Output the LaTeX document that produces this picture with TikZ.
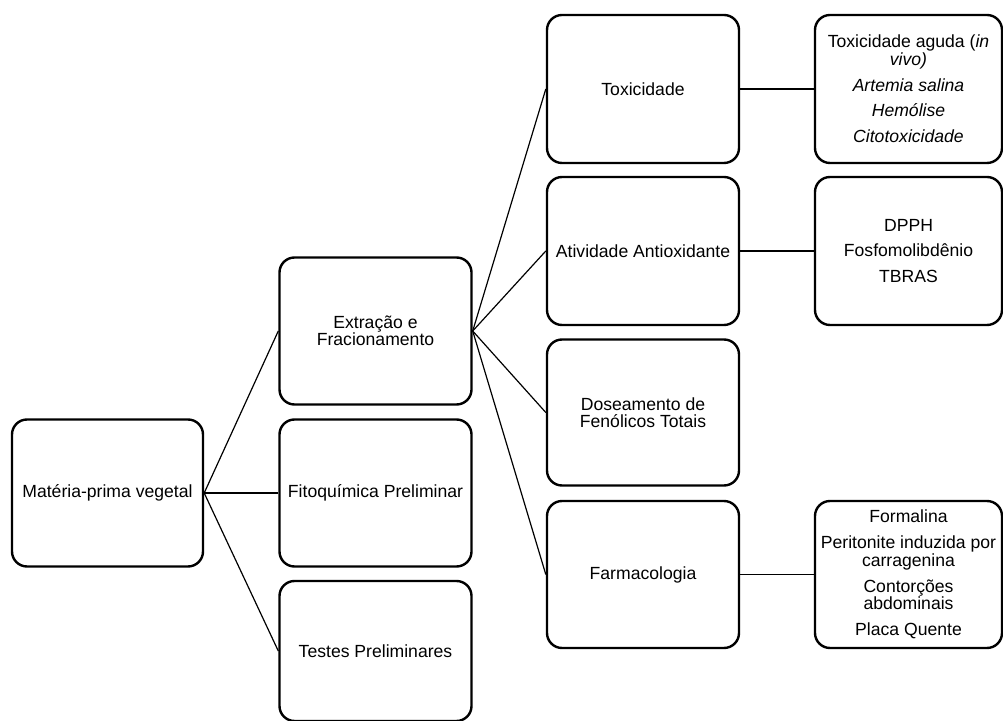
\documentclass[tikz,border=0pt]{standalone}
\usepackage{fontspec}
\setmainfont{Liberation Sans}
\begin{document}
\begin{tikzpicture}[x=1pt,y=1pt,
  box/.style={draw=black,line width=2.4pt,rounded corners=15pt,minimum width=#1,align=center,inner sep=2pt,
    font=\fontsize{17.6}{17.4}\selectfont},
  box/.default=192pt,
  link/.style={draw=black,line width=1.2pt}]
\useasboundingbox (0,0) rectangle (1003,720);
% level 0
\node[box=191pt,minimum height=147pt] (mat) at (107.5,227) {Matéria-prima vegetal};
% level 1
\node[box,minimum height=147pt] (ext) at (375.5,389) {Extração e\\Fracionamento};
\node[box,minimum height=147pt] (fito) at (375.5,227) {Fitoquímica Preliminar};
\node[box,minimum height=140pt] (test) at (375.5,69) {Testes Preliminares};
% level 2
\node[box,minimum height=148pt] (tox) at (643,631) {Toxicidade};
\node[box,minimum height=148pt] (ativ) at (643,469) {Atividade Antioxidante};
\node[box,minimum height=146pt] (dose) at (643,307.5) {Doseamento de\\Fenólicos Totais};
\node[box,minimum height=147pt] (farm) at (643,145.5) {Farmacologia};
% level 3
\node[box=187pt,minimum height=148pt] (r1) at (908.5,631) {Toxicidade aguda (\textit{in}\\\textit{vivo)}\\[8.5pt]\textit{Artemia salina}\\[8.5pt]\textit{Hemólise}\\[8.5pt]\textit{Citotoxicidade}};
\node[box=187pt,minimum height=148pt] (r2) at (908.5,469) {DPPH\\[8.5pt]Fosfomolibdênio\\[8.5pt]TBRAS};
\node[box=187pt,minimum height=147pt] (r3) at (908.5,145.5) {Formalina\\[8.5pt]Peritonite induzida por\\carragenina\\[8.5pt]Contorções\\abdominais\\[8.5pt]Placa Quente};
% connectors
\draw[link] (mat.east) -- (ext.west);
\draw[link] (mat.east) -- (fito.west);
\draw[link] (mat.east) -- (test.west);
\draw[link] (ext.east) -- (tox.west);
\draw[link] (ext.east) -- (ativ.west);
\draw[link] (ext.east) -- (dose.west);
\draw[link] (ext.east) -- (farm.west);
\draw[link] (tox.east) -- (r1.west);
\draw[link] (ativ.east) -- (r2.west);
\draw[link] (farm.east) -- (r3.west);
\end{tikzpicture}
\end{document}
